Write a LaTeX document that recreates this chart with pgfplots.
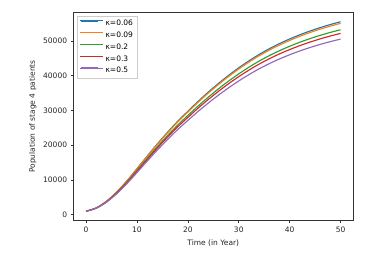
\documentclass[border=0pt]{standalone}
\usepackage{fontspec}
\setmainfont{DejaVu Sans}
\usepackage{pgfplots}
\pgfplotsset{compat=1.18}
\usepackage{pgfplotstable}
\definecolor{c1}{HTML}{1F77B4}
\definecolor{c2}{HTML}{FF7F0E}
\definecolor{c3}{HTML}{2CA02C}
\definecolor{c4}{HTML}{D62728}
\definecolor{c5}{HTML}{9467BD}
\pgfplotstableread{
t b o g r p
0 1000 1000 1000 1000 1000
2 1950 1942 1910 1892 1863
4 3850 3826 3730 3675 3589
6 6500 6454 6268 6162 5997
8 9700 9627 9333 9166 8904
10 13250 13147 12733 12498 12129
12 16850 16717 16181 15877 15400
14 20380 20217 19562 19190 18607
16 23730 23539 22771 22334 21650
18 26880 26663 25788 25291 24512
20 29780 29538 28566 28013 27147
22 32610 32344 31276 30669 29718
24 35270 34982 33824 33166 32134
26 37770 37461 36218 35512 34406
28 40110 39781 38460 37709 36531
30 42290 41943 40548 39755 38512
32 44300 43936 42473 41641 40338
34 46130 45751 44225 43359 42001
36 47780 47387 45806 44908 43500
38 49260 48855 47223 46297 44844
40 50590 50173 48497 47545 46053
42 51800 51373 49656 48681 47152
44 52890 52454 50700 49704 48142
46 53870 53426 51639 50624 49032
48 54760 54308 52491 51459 49841
50 55550 55092 53248 52201 50559
}\data
\begin{document}
\begin{tikzpicture}
\begin{axis}[
  name=ax,
  width=280pt, height=208.4pt, scale only axis,
  xmin=-2.5, xmax=52.5, ymin=-1727.5, ymax=58277.5,
  xtick={0,10,...,50}, ytick={0,10000,...,50000},
  scaled y ticks=false,
  /pgf/number format/assume math mode=true,
  yticklabel style={/pgf/number format/.cd, fixed, 1000 sep={}},
  tick align=outside, xtick pos=bottom, ytick pos=left,
  major tick length=2.7pt,
  tick style={black!80, line width=0.6pt},
  axis line style={black!80, line width=0.6pt},
  ticklabel style={font=\fontsize{7.5}{9}\selectfont, text=black!85},
  label style={font=\fontsize{7.5}{9}\selectfont, text=black!85},
  xlabel={Time (in Year)}, ylabel={Population of stage 4 patients},
  legend cell align=left,
  legend style={at={(0.014,0.984)}, anchor=north west, draw=black!20,
    font=\fontsize{7.5}{9}\selectfont, row sep=0.8pt, inner sep=2pt},
  legend image code/.code={\draw[#1, line width=1.5pt] (0pt,2.6pt) -- (17pt,2.6pt); \path (-1pt,2.6pt) -- (22pt,2.6pt);},
]
\addplot[color=c1, line width=1.15pt, smooth] table[x=t,y=b]{\data};
\addlegendentry{κ=0.06}
\addplot[color=c2, line width=1.15pt, smooth] table[x=t,y=o]{\data};
\addlegendentry{κ=0.09}
\addplot[color=c3, line width=1.15pt, smooth] table[x=t,y=g]{\data};
\addlegendentry{κ=0.2}
\addplot[color=c4, line width=1.15pt, smooth] table[x=t,y=r]{\data};
\addlegendentry{κ=0.3}
\addplot[color=c5, line width=1.15pt, smooth] table[x=t,y=p]{\data};
\addlegendentry{κ=0.5}
\end{axis}
\pgfresetboundingbox
\path ([xshift=-73.3pt,yshift=-34.3pt]ax.south west) rectangle ([xshift=13.7pt,yshift=12.3pt]ax.north east);
\end{tikzpicture}
\end{document}
